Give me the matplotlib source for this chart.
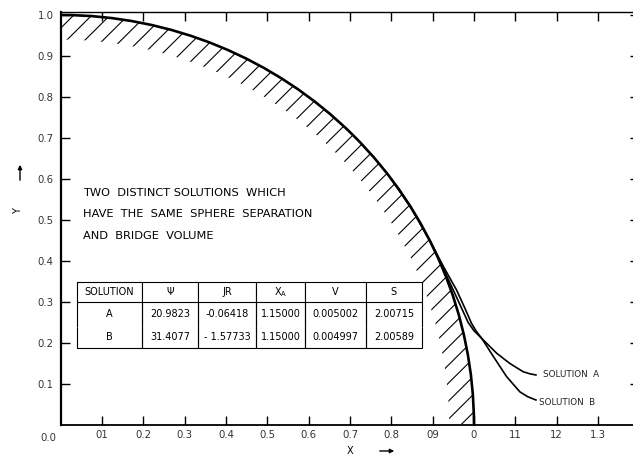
import numpy as np
import matplotlib.pyplot as plt
from matplotlib.patches import Arc, Wedge
from matplotlib.collections import LineCollection

# sphere (unit radius, centred on origin) and hatched wall thickness
sphere_r = 1.0
wall = 0.06
hatch_step = 0.044

# bridge profiles
xa = [0.80, 0.85, 0.894, 0.925, 0.950, 0.970, 0.986, 1.000, 1.019, 1.055, 1.087, 1.119, 1.135, 1.150]
ya = [0.600, 0.527, 0.448, 0.383, 0.329, 0.285, 0.250, 0.230, 0.211, 0.175, 0.150, 0.130, 0.125, 0.122]
xb = [0.80, 0.85, 0.894, 0.928, 0.958, 0.978, 0.994, 1.006, 1.019, 1.047, 1.079, 1.111, 1.130, 1.150]
yb = [0.600, 0.527, 0.448, 0.383, 0.329, 0.285, 0.248, 0.228, 0.211, 0.167, 0.118, 0.081, 0.069, 0.061]

xticks = [0.1, 0.2, 0.3, 0.4, 0.5, 0.6, 0.7, 0.8, 0.9, 1.0, 1.1, 1.2, 1.3]
xlabels = ['01', '0.2', '0.3', '0.4', '0.5', '0.6', '0.7', '0.8', '09', '0', '11', '12', '1.3']
yticks = [0.1, 0.2, 0.3, 0.4, 0.5, 0.6, 0.7, 0.8, 0.9, 1.0]
ylabels = ['0.1', '0.2', '0.3', '0.4', '0.5', '0.6', '0.7', '0.8', '0.9', '1.0']

col_labels = ['SOLUTION', '\u03a8', 'JR', 'X$_\\mathregular{A}$', 'V', 'S']
row_a = ['A', '20.9823', '-0.06418', '1.15000', '0.005002', '2.00715']
row_b = ['B', '31.4077', '- 1.57733', '1.15000', '0.004997', '2.00589']
col_w = [65, 56, 58, 49, 61, 56]
row_h = [20, 25, 21]

note = ['TWO  DISTINCT SOLUTIONS  WHICH',
        'HAVE  THE  SAME  SPHERE  SEPARATION',
        'AND  BRIDGE  VOLUME']

fig = plt.figure(figsize=(6.33, 4.55), dpi=100)
ax = fig.add_axes([0.0959, 0.0659, 0.914, 0.9075])
ax.set_xlim(0, 1.4)
ax.set_ylim(0, 1.007)

# hatched sphere wall: 45 degree strokes clipped to the wall wedge
wedge = Wedge((0, 0), sphere_r, 0, 90, width=wall, facecolor='none', linewidth=0)
ax.add_patch(wedge)
offs = np.arange(-1.1, 1.1, hatch_step)
segs = [[(c, 0), (c + 1.2, 1.2)] for c in offs]
hatch = LineCollection(segs, colors='black', linewidths=0.8)
ax.add_collection(hatch)
hatch.set_clip_path(wedge)

ax.add_patch(Arc((0, 0), 2 * sphere_r, 2 * sphere_r, theta1=0, theta2=90,
                 color='black', lw=1.9, zorder=3))

ax.plot(xa, ya, color='black', lw=1.2)
ax.plot(xb, yb, color='black', lw=1.2)
ax.text(1.167, 0.122, 'SOLUTION  A', fontsize=6.3, va='center', color='#222')
ax.text(1.157, 0.056, 'SOLUTION  B', fontsize=6.3, va='center', color='#222')

for i, line in enumerate(note):
    ax.text(0.054, 0.566 - i * 0.052, line, fontsize=8.2, va='center')

tab = ax.table(cellText=[col_labels, row_a, row_b], colWidths=col_w,
               cellLoc='center', bbox=[0.0282, 0.1865, 0.596, 0.160], zorder=4)
tab.auto_set_font_size(False)
tab.set_fontsize(7)
for (r, c), cell in tab.get_celld().items():
    cell.set_height(row_h[r])
    cell.set_linewidth(0.8)
    cell.visible_edges = ['closed', 'LR', 'BLR'][r]

ax.set_xticks(xticks)
ax.set_xticklabels(xlabels)
ax.set_yticks(yticks)
ax.set_yticklabels(ylabels)
ax.tick_params(direction='in', length=6.5, width=1, top=True, right=True,
               labelsize=7.3, labelcolor='#333')
ax.tick_params(axis='x', pad=3.5)
ax.tick_params(axis='y', pad=5)
ax.spines['left'].set_linewidth(1.6)
ax.spines['bottom'].set_linewidth(1.3)
ax.spines['top'].set_linewidth(1.0)
ax.text(-0.03, -0.02, '0.0', fontsize=7.3, color='#333', ha='center', va='top')

# axis labels with arrows
fig.text(350 / 633, 1 - 451 / 455, 'X', fontsize=7, ha='center', va='center')
fig.text(18 / 633, 1 - 211 / 455, 'Y', fontsize=7, ha='center', va='center', rotation=90)
ax.annotate('', xy=(397 / 633, 1 - 451 / 455), xytext=(377 / 633, 1 - 451 / 455),
            xycoords='figure fraction', arrowprops=dict(arrowstyle='-|>', lw=1, color='black',
                                                       mutation_scale=6))
ax.annotate('', xy=(20 / 633, 1 - 162 / 455), xytext=(20 / 633, 1 - 183 / 455),
            xycoords='figure fraction', arrowprops=dict(arrowstyle='-|>', lw=1, color='black',
                                                       mutation_scale=6))

fig.savefig('out.png', dpi=100)
